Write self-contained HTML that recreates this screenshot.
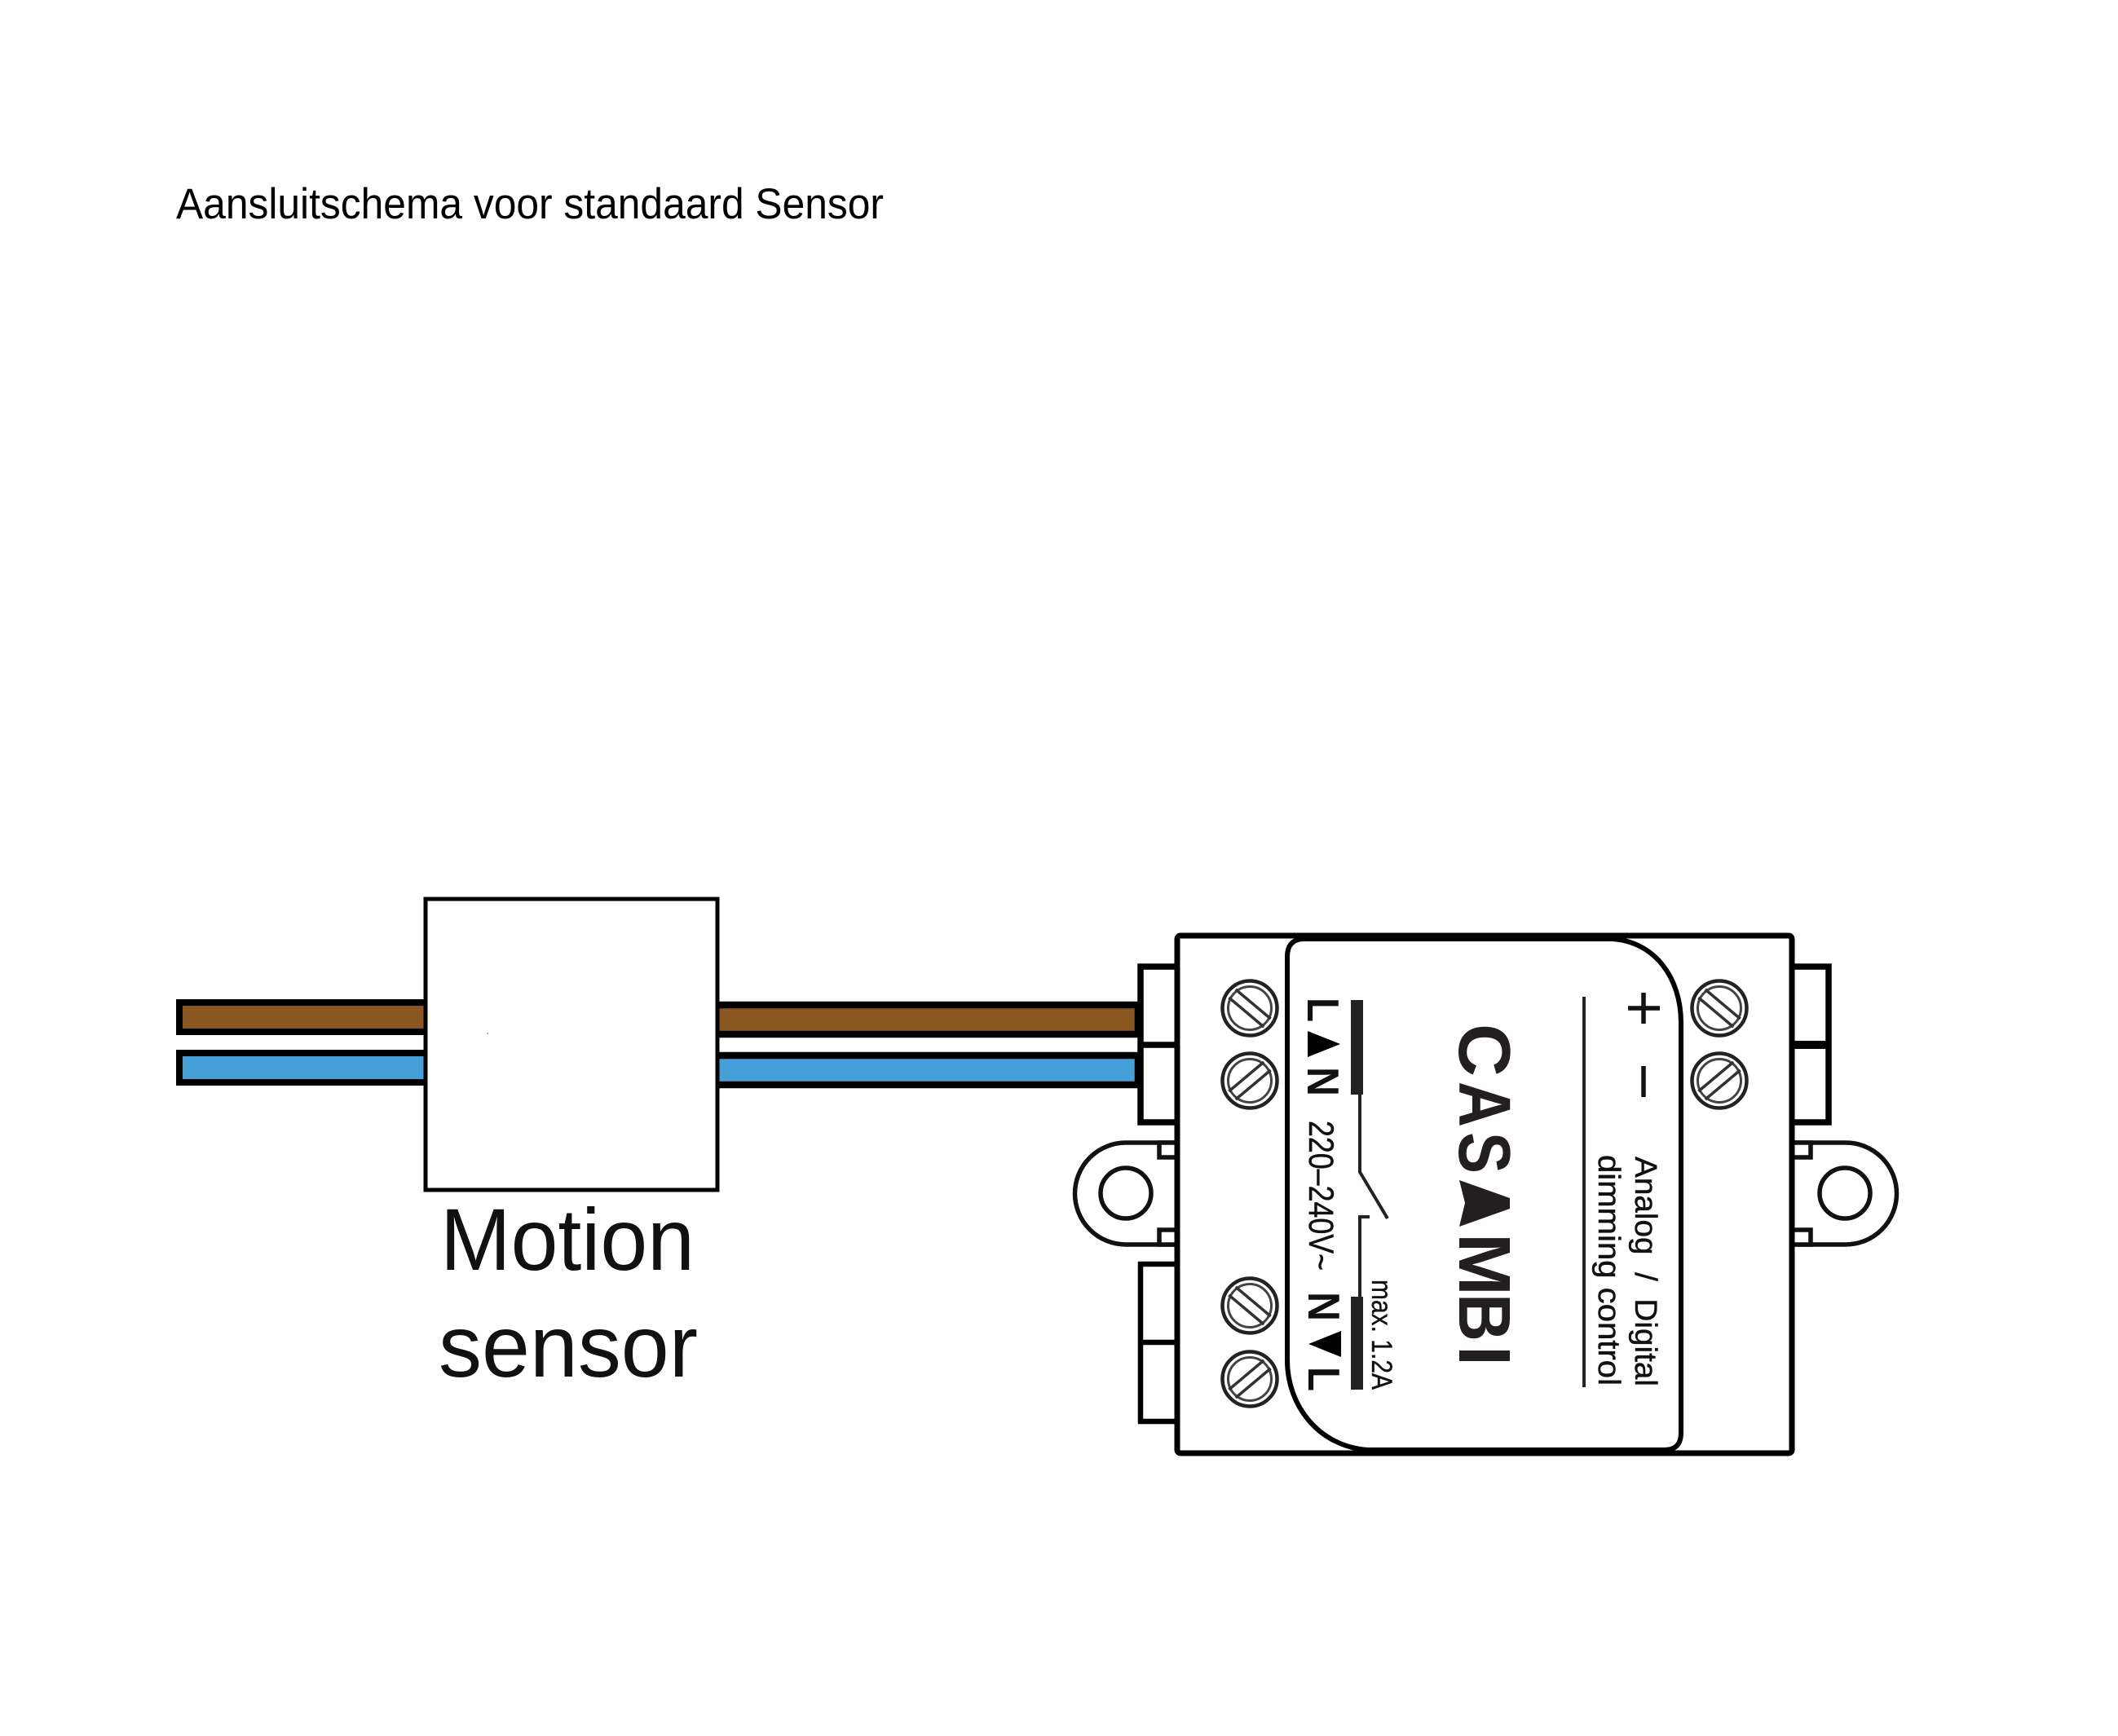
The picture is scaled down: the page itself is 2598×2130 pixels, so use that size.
<!DOCTYPE html>
<html>
<head>
<meta charset="utf-8">
<style>
html,body{margin:0;padding:0;background:#fff}
svg{display:block}
text{font-family:"Liberation Sans",Arial,sans-serif;fill:#111}
.c{fill:#231f20;font-size:90px;font-weight:700}
</style>
</head>
<body>
<svg xmlns="http://www.w3.org/2000/svg" width="2598" height="2130" viewBox="0 0 2598 2130">
<defs>
<g id="scrA">
  <circle r="33.5" fill="#fff" stroke="#222" stroke-width="4.5"/>
  <circle r="26.5" fill="none" stroke="#444" stroke-width="3"/>
  <g transform="rotate(40)" stroke="#333" stroke-width="3.5">
    <line x1="-28" y1="-6.5" x2="28" y2="-6.5"/>
    <line x1="-28" y1="6.5" x2="28" y2="6.5"/>
  </g>
</g>
<g id="scrB">
  <circle r="33.5" fill="#fff" stroke="#222" stroke-width="4.5"/>
  <circle r="26.5" fill="none" stroke="#444" stroke-width="3"/>
  <g transform="rotate(-40)" stroke="#333" stroke-width="3.5">
    <line x1="-28" y1="-6.5" x2="28" y2="-6.5"/>
    <line x1="-28" y1="6.5" x2="28" y2="6.5"/>
  </g>
</g>
</defs>

<rect width="2598" height="2130" fill="#fff"/>

<text x="216" y="268" font-size="53" textLength="868" lengthAdjust="spacingAndGlyphs" style="fill:#000">Aansluitschema voor standaard Sensor</text>

<!-- left wires -->
<rect x="220" y="1230" width="304" height="36" fill="#8B5720" stroke="#000" stroke-width="8"/>
<rect x="220" y="1292" width="304" height="36" fill="#479FD8" stroke="#000" stroke-width="8"/>
<!-- right wires -->
<rect x="878" y="1233" width="518" height="36" fill="#8B5720" stroke="#000" stroke-width="8.5"/>
<rect x="878" y="1295" width="518" height="36" fill="#479FD8" stroke="#000" stroke-width="8.5"/>

<!-- sensor box -->
<rect x="522" y="1103" width="358" height="357" fill="#fff" stroke="#000" stroke-width="5"/>
<rect x="597" y="1267" width="2" height="2" fill="#bbb"/>
<text x="540" y="1558" font-size="108" textLength="312" lengthAdjust="spacingAndGlyphs">Motion</text>
<text x="538" y="1689" font-size="108" textLength="318" lengthAdjust="spacingAndGlyphs">sensor</text>

<!-- terminals -->
<g fill="#fff" stroke="#000" stroke-width="7.5">
  <path d="M1444,1186 H1399 V1377 H1444 M1399,1282 H1444"/>
  <path d="M1444,1551 H1399 V1744 H1444 M1399,1647 H1444" stroke-width="6.5"/>
  <path d="M2198,1186 H2243 V1377 H2198"/>
  <path d="M2198,1282 H2243" stroke-width="10" fill="none"/>
</g>

<!-- mounting tabs -->
<g fill="#fff" stroke="#111" stroke-width="5.5">
  <path d="M1444,1402 H1381 A62.5,62.5 0 0 0 1381,1527 H1444"/>
  <circle cx="1381" cy="1464" r="31"/>
  <path d="M1444,1402 H1422 V1420 H1444 M1444,1527 H1422 V1509 H1444" fill="#fff"/>
  <path d="M2198,1402 H2264 A62.5,62.5 0 0 1 2264,1527 H2198"/>
  <circle cx="2263" cy="1464" r="31"/>
  <path d="M2198,1402 H2221 V1420 H2198 M2198,1527 H2221 V1509 H2198" fill="#fff"/>
</g>

<!-- body -->
<rect x="1444" y="1148" width="754" height="635" rx="4" fill="#fff" stroke="#000" stroke-width="7"/>
<!-- panel -->
<path d="M1579,1174 Q1579,1152 1600,1152 H1977 C2030,1155 2062,1200 2062,1255 V1758 Q2062,1779 2042,1779 H1678 C1618,1775 1579,1725 1579,1669 Z" fill="#fff" stroke="#000" stroke-width="6"/>

<!-- screws -->
<use href="#scrA" x="1533" y="1237"/>
<use href="#scrB" x="1533" y="1326"/>
<use href="#scrA" x="1533" y="1602"/>
<use href="#scrB" x="1533" y="1692"/>
<use href="#scrA" x="2109" y="1237"/>
<use href="#scrB" x="2109" y="1326"/>

<!-- L ^ N top -->
<text transform="translate(1604,1224) rotate(90)" font-size="55" font-weight="700" textLength="30" lengthAdjust="spacingAndGlyphs">L</text>
<polygon points="1604,1265 1604,1297 1644,1281" fill="#000"/>
<text transform="translate(1604,1309) rotate(90)" font-size="55" font-weight="700" textLength="36" lengthAdjust="spacingAndGlyphs">N</text>

<!-- L v N bottom -->
<text transform="translate(1605,1585) rotate(90)" font-size="55" font-weight="700" textLength="36" lengthAdjust="spacingAndGlyphs">N</text>
<polygon points="1605,1649 1645,1633 1645,1665" fill="#000"/>
<text transform="translate(1605,1677) rotate(90)" font-size="55" font-weight="700" textLength="30" lengthAdjust="spacingAndGlyphs">L</text>

<!-- switch -->
<rect x="1657" y="1227" width="15" height="116" fill="#222"/>
<rect x="1657" y="1591" width="15" height="114" fill="#222"/>
<path d="M1668,1343 V1438 L1702,1495 M1680,1493 H1668 V1591" fill="none" stroke="#222" stroke-width="4"/>

<text transform="translate(1606,1375) rotate(90)" font-size="43" textLength="184" lengthAdjust="spacingAndGlyphs" stroke="#111" stroke-width="0.5">220–240V~</text>
<text transform="translate(1683,1570) rotate(90)" font-size="35" textLength="135" lengthAdjust="spacingAndGlyphs" stroke="#111" stroke-width="0.4">max. 1.2A</text>

<!-- CASAMBI -->
<text class="c" transform="translate(1790,1256) rotate(90)" textLength="65" lengthAdjust="spacingAndGlyphs">C</text>
<text class="c" transform="translate(1790,1327) rotate(90)" textLength="56" lengthAdjust="spacingAndGlyphs">A</text>
<text class="c" transform="translate(1790,1389) rotate(90)" textLength="51" lengthAdjust="spacingAndGlyphs">S</text>
<polygon points="1790,1448 1852,1470 1852,1483 1790,1505 1797,1476" fill="#231f20"/>
<text class="c" transform="translate(1790,1513) rotate(90)" textLength="77" lengthAdjust="spacingAndGlyphs">M</text>
<text class="c" transform="translate(1790,1587) rotate(90)" textLength="59" lengthAdjust="spacingAndGlyphs">B</text>
<text class="c" transform="translate(1790,1651) rotate(90)" textLength="25" lengthAdjust="spacingAndGlyphs">I</text>

<!-- divider -->
<line x1="1943" y1="1223" x2="1943" y2="1702" stroke="#222" stroke-width="4"/>

<!-- + - -->
<path d="M1997,1237 H2036 M2016,1218 V1256 M2016,1308 V1346" fill="none" stroke="#111" stroke-width="5.5"/>

<text transform="translate(2006,1419) rotate(90)" font-size="38" textLength="282" lengthAdjust="spacingAndGlyphs" stroke="#111" stroke-width="0.5" xml:space="preserve">Analog  /  Digital</text>
<text transform="translate(1961,1417) rotate(90)" font-size="38" textLength="283" lengthAdjust="spacingAndGlyphs" stroke="#111" stroke-width="0.5">dimming control</text>
</svg>
</body>
</html>
